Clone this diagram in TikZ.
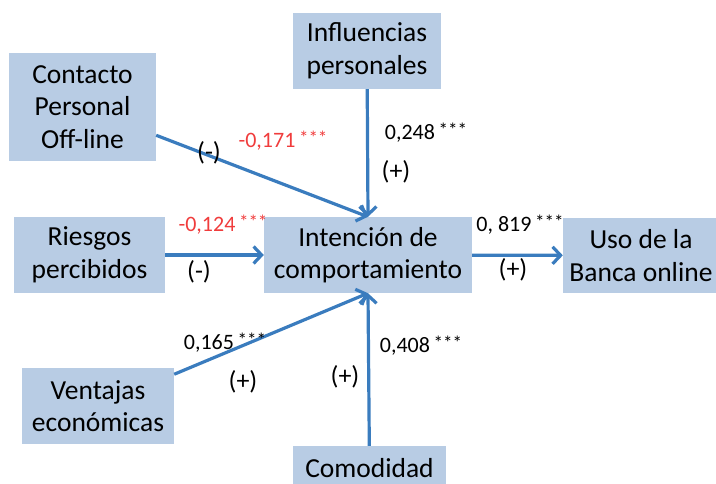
\documentclass[tikz,border=0pt]{standalone}
\usepackage{fontspec}
\setmainfont{Carlito}
\usepackage{tikz}
\usetikzlibrary{arrows.meta}
\definecolor{boxblue}{RGB}{184,204,228}
\definecolor{arrblue}{RGB}{58,124,190}
\definecolor{coefred}{RGB}{240,60,60}

\begin{document}
\begin{tikzpicture}
        [x=1pt, y=-1pt,
        factor/.style={rectangle, fill=boxblue, inner sep=0pt, align=center,
           font=\fontsize{27.5}{32.5}\selectfont},
        arr/.style={-{Straight Barb[length=8pt, width=17pt]}, draw=arrblue, line width=3.2pt},
        coef/.style={font=\fontsize{22}{26}\selectfont},
        sign/.style={font=\fontsize{26}{30}\selectfont}]
        \useasboundingbox (0,0) rectangle (716,484);
        \newcommand{\stars}{\,{\fontsize{19}{22}\selectfont\raisebox{3pt}{***}}}
        \node (I) at (368, 255) [factor, minimum width=208pt, minimum height=76pt]
           {Intención de\\comportamiento};
        \node (U) at (641, 255.5) [factor, minimum width=156pt, minimum height=75pt]
           {Uso de la\\Banca online};
        \node (C) at (82.5, 107) [factor, minimum width=147pt, minimum height=108pt]
           {Contacto\\Personal\\Off-line}
           edge[arr] (I.north);
        \node (P) at (367, 51) [factor, minimum width=148pt, minimum height=76pt]
           {Influencias\\personales}
           edge[arr] (I.north);
        \node (R) at (89.5, 255) [factor, minimum width=151pt, minimum height=76pt]
           {Riesgos\\percibidos}
           edge[arr] (I);
        \node (V) at (98, 406) [factor, minimum width=152pt, minimum height=76pt]
           {Ventajas\\económicas}
           edge[arr] (I.south);
        \node (M) at (369.5, 468) [factor, minimum width=153pt, minimum height=44pt]
           {Comodidad}
           edge[arr] (I.south);
        \path (I) edge[arr] (U);
        % coeficientes
        \node (cC) at (283, 141) [coef, text=coefred] {-0,171\stars};
        \node (sC) at (209, 153) [sign] {(-)};
        \node (cP) at (426, 133) [coef] {0,248\stars};
        \node (sP) at (396, 172) [sign] {(+)};
        \node (cR) at (223, 225) [coef, text=coefred] {-0,124\stars};
        \node (sR) at (199, 272) [sign] {(-)};
        \node (cU) at (520, 225) [coef] {0, 819\stars};
        \node (sU) at (513, 270) [sign] {(+)};
        \node (cV) at (225, 343) [coef] {0,165\stars};
        \node (sV) at (243, 382) [sign] {(+)};
        \node (cM) at (421, 346) [coef] {0,408\stars};
        \node (sM) at (345, 377) [sign] {(+)};
     \end{tikzpicture}
\end{document}
